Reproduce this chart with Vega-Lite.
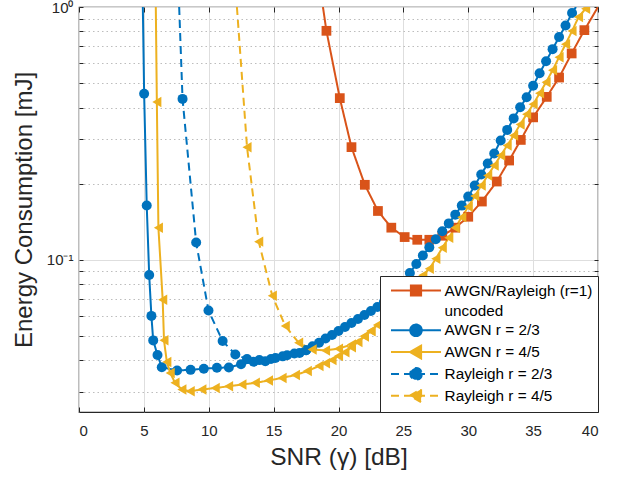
{
  "$schema": "https://vega.github.io/schema/vega-lite/v6.json",
  "width": 519,
  "height": 405,
  "autosize": {"type": "none"},
  "padding": {"left": 79, "top": 7, "right": 23, "bottom": 66},
  "config": {
    "font": "Liberation Sans",
    "view": {"stroke": "#262626", "strokeWidth": 1.2}
  },
  "datasets": {
    "curves": [
      {"s": "AWGN/Rayleigh (r=1) uncoded", "snr": 18.8, "e": 1.0},
      {"s": "AWGN/Rayleigh (r=1) uncoded", "snr": 19.07, "e": 0.805},
      {"s": "AWGN/Rayleigh (r=1) uncoded", "snr": 20.1, "e": 0.436},
      {"s": "AWGN/Rayleigh (r=1) uncoded", "snr": 21.0, "e": 0.279},
      {"s": "AWGN/Rayleigh (r=1) uncoded", "snr": 22.03, "e": 0.198},
      {"s": "AWGN/Rayleigh (r=1) uncoded", "snr": 23.04, "e": 0.156},
      {"s": "AWGN/Rayleigh (r=1) uncoded", "snr": 24.07, "e": 0.134},
      {"s": "AWGN/Rayleigh (r=1) uncoded", "snr": 25.1, "e": 0.123},
      {"s": "AWGN/Rayleigh (r=1) uncoded", "snr": 26.07, "e": 0.12},
      {"s": "AWGN/Rayleigh (r=1) uncoded", "snr": 27.0, "e": 0.12},
      {"s": "AWGN/Rayleigh (r=1) uncoded", "snr": 28.0, "e": 0.1245},
      {"s": "AWGN/Rayleigh (r=1) uncoded", "snr": 29.0, "e": 0.134},
      {"s": "AWGN/Rayleigh (r=1) uncoded", "snr": 30.0, "e": 0.148},
      {"s": "AWGN/Rayleigh (r=1) uncoded", "snr": 31.05, "e": 0.17},
      {"s": "AWGN/Rayleigh (r=1) uncoded", "snr": 32.2, "e": 0.204},
      {"s": "AWGN/Rayleigh (r=1) uncoded", "snr": 33.15, "e": 0.247},
      {"s": "AWGN/Rayleigh (r=1) uncoded", "snr": 34.05, "e": 0.298},
      {"s": "AWGN/Rayleigh (r=1) uncoded", "snr": 35.0, "e": 0.366},
      {"s": "AWGN/Rayleigh (r=1) uncoded", "snr": 36.05, "e": 0.441},
      {"s": "AWGN/Rayleigh (r=1) uncoded", "snr": 37.0, "e": 0.526},
      {"s": "AWGN/Rayleigh (r=1) uncoded", "snr": 37.97, "e": 0.655},
      {"s": "AWGN/Rayleigh (r=1) uncoded", "snr": 38.95, "e": 0.81},
      {"s": "AWGN/Rayleigh (r=1) uncoded", "snr": 40.0, "e": 1.0},

      {"s": "Rayleigh r = 2/3", "snr": 7.72, "e": 1.0},
      {"s": "Rayleigh r = 2/3", "snr": 7.98, "e": 0.433},
      {"s": "Rayleigh r = 2/3", "snr": 9.03, "e": 0.117},
      {"s": "Rayleigh r = 2/3", "snr": 9.98, "e": 0.063},
      {"s": "Rayleigh r = 2/3", "snr": 11.07, "e": 0.0477},
      {"s": "Rayleigh r = 2/3", "snr": 12.05, "e": 0.0422},
      {"s": "Rayleigh r = 2/3", "snr": 12.95, "e": 0.0405},
      {"s": "Rayleigh r = 2/3", "snr": 13.9, "e": 0.0401},
      {"s": "Rayleigh r = 2/3", "snr": 14.8, "e": 0.0405},
      {"s": "Rayleigh r = 2/3", "snr": 15.7, "e": 0.0415},
      {"s": "Rayleigh r = 2/3", "snr": 16.6, "e": 0.0426},
      {"s": "Rayleigh r = 2/3", "snr": 17.5, "e": 0.0439},

      {"s": "AWGN r = 2/3", "snr": 4.92, "e": 1.0},
      {"s": "AWGN r = 2/3", "snr": 5.02, "e": 0.454},
      {"s": "AWGN r = 2/3", "snr": 5.22, "e": 0.164},
      {"s": "AWGN r = 2/3", "snr": 5.41, "e": 0.087},
      {"s": "AWGN r = 2/3", "snr": 5.58, "e": 0.06},
      {"s": "AWGN r = 2/3", "snr": 5.72, "e": 0.048},
      {"s": "AWGN r = 2/3", "snr": 6.05, "e": 0.042},
      {"s": "AWGN r = 2/3", "snr": 6.38, "e": 0.0376},
      {"s": "AWGN r = 2/3", "snr": 7.56, "e": 0.0365},
      {"s": "AWGN r = 2/3", "snr": 8.6, "e": 0.0367},
      {"s": "AWGN r = 2/3", "snr": 9.62, "e": 0.0371},
      {"s": "AWGN r = 2/3", "snr": 10.63, "e": 0.0374},
      {"s": "AWGN r = 2/3", "snr": 11.55, "e": 0.0375},
      {"s": "AWGN r = 2/3", "snr": 12.49, "e": 0.0386},
      {"s": "AWGN r = 2/3", "snr": 13.46, "e": 0.0395},
      {"s": "AWGN r = 2/3", "snr": 14.36, "e": 0.0397},
      {"s": "AWGN r = 2/3", "snr": 15.14, "e": 0.0409},
      {"s": "AWGN r = 2/3", "snr": 16.04, "e": 0.0419},
      {"s": "AWGN r = 2/3", "snr": 17.0, "e": 0.0428},
      {"s": "AWGN r = 2/3", "snr": 17.5, "e": 0.0439},
      {"s": "AWGN r = 2/3", "snr": 18.0, "e": 0.0455},
      {"s": "AWGN r = 2/3", "snr": 18.5, "e": 0.047},
      {"s": "AWGN r = 2/3", "snr": 19.0, "e": 0.0488},
      {"s": "AWGN r = 2/3", "snr": 19.5, "e": 0.0504},
      {"s": "AWGN r = 2/3", "snr": 20.0, "e": 0.0523},
      {"s": "AWGN r = 2/3", "snr": 20.5, "e": 0.0542},
      {"s": "AWGN r = 2/3", "snr": 21.0, "e": 0.0562},
      {"s": "AWGN r = 2/3", "snr": 21.5, "e": 0.0583},
      {"s": "AWGN r = 2/3", "snr": 22.0, "e": 0.0605},
      {"s": "AWGN r = 2/3", "snr": 22.5, "e": 0.0627},
      {"s": "AWGN r = 2/3", "snr": 23.0, "e": 0.0651},
      {"s": "AWGN r = 2/3", "snr": 23.5, "e": 0.0681},
      {"s": "AWGN r = 2/3", "snr": 24.0, "e": 0.072},
      {"s": "AWGN r = 2/3", "snr": 24.5, "e": 0.0767},
      {"s": "AWGN r = 2/3", "snr": 25.0, "e": 0.0818},
      {"s": "AWGN r = 2/3", "snr": 25.5, "e": 0.0887},
      {"s": "AWGN r = 2/3", "snr": 26.0, "e": 0.0963},
      {"s": "AWGN r = 2/3", "snr": 26.5, "e": 0.104},
      {"s": "AWGN r = 2/3", "snr": 27.0, "e": 0.112},
      {"s": "AWGN r = 2/3", "snr": 27.5, "e": 0.1205},
      {"s": "AWGN r = 2/3", "snr": 28.0, "e": 0.1298},
      {"s": "AWGN r = 2/3", "snr": 28.5, "e": 0.1393},
      {"s": "AWGN r = 2/3", "snr": 29.0, "e": 0.1509},
      {"s": "AWGN r = 2/3", "snr": 29.5, "e": 0.1638},
      {"s": "AWGN r = 2/3", "snr": 30.0, "e": 0.1778},
      {"s": "AWGN r = 2/3", "snr": 30.5, "e": 0.1966},
      {"s": "AWGN r = 2/3", "snr": 31.0, "e": 0.2175},
      {"s": "AWGN r = 2/3", "snr": 31.5, "e": 0.2404},
      {"s": "AWGN r = 2/3", "snr": 32.0, "e": 0.2634},
      {"s": "AWGN r = 2/3", "snr": 32.5, "e": 0.2966},
      {"s": "AWGN r = 2/3", "snr": 33.0, "e": 0.3265},
      {"s": "AWGN r = 2/3", "snr": 33.5, "e": 0.3626},
      {"s": "AWGN r = 2/3", "snr": 34.0, "e": 0.401},
      {"s": "AWGN r = 2/3", "snr": 34.5, "e": 0.4394},
      {"s": "AWGN r = 2/3", "snr": 35.0, "e": 0.4882},
      {"s": "AWGN r = 2/3", "snr": 35.5, "e": 0.547},
      {"s": "AWGN r = 2/3", "snr": 36.0, "e": 0.6105},
      {"s": "AWGN r = 2/3", "snr": 36.5, "e": 0.6813},
      {"s": "AWGN r = 2/3", "snr": 37.0, "e": 0.7603},
      {"s": "AWGN r = 2/3", "snr": 37.5, "e": 0.8446},
      {"s": "AWGN r = 2/3", "snr": 38.0, "e": 0.9467},
      {"s": "AWGN r = 2/3", "snr": 38.3, "e": 1.0},

      {"s": "Rayleigh r = 4/5", "snr": 12.17, "e": 1.0},
      {"s": "Rayleigh r = 4/5", "snr": 12.95, "e": 0.279},
      {"s": "Rayleigh r = 4/5", "snr": 13.85, "e": 0.118},
      {"s": "Rayleigh r = 4/5", "snr": 14.9, "e": 0.072},
      {"s": "Rayleigh r = 4/5", "snr": 15.9, "e": 0.0547},
      {"s": "Rayleigh r = 4/5", "snr": 16.93, "e": 0.047},
      {"s": "Rayleigh r = 4/5", "snr": 17.97, "e": 0.0442},
      {"s": "Rayleigh r = 4/5", "snr": 19.0, "e": 0.0438},
      {"s": "Rayleigh r = 4/5", "snr": 20.0, "e": 0.0445},
      {"s": "Rayleigh r = 4/5", "snr": 21.0, "e": 0.0462},
      {"s": "Rayleigh r = 4/5", "snr": 22.0, "e": 0.05},
      {"s": "Rayleigh r = 4/5", "snr": 22.5, "e": 0.0523},

      {"s": "AWGN r = 4/5", "snr": 5.92, "e": 1.0},
      {"s": "AWGN r = 4/5", "snr": 6.0, "e": 0.421},
      {"s": "AWGN r = 4/5", "snr": 6.12, "e": 0.134},
      {"s": "AWGN r = 4/5", "snr": 6.45, "e": 0.0695},
      {"s": "AWGN r = 4/5", "snr": 6.55, "e": 0.0481},
      {"s": "AWGN r = 4/5", "snr": 6.77, "e": 0.0394},
      {"s": "AWGN r = 4/5", "snr": 7.03, "e": 0.0357},
      {"s": "AWGN r = 4/5", "snr": 7.4, "e": 0.0326},
      {"s": "AWGN r = 4/5", "snr": 7.93, "e": 0.0307},
      {"s": "AWGN r = 4/5", "snr": 8.57, "e": 0.0302},
      {"s": "AWGN r = 4/5", "snr": 9.47, "e": 0.0307},
      {"s": "AWGN r = 4/5", "snr": 10.5, "e": 0.0311},
      {"s": "AWGN r = 4/5", "snr": 11.53, "e": 0.0316},
      {"s": "AWGN r = 4/5", "snr": 12.56, "e": 0.0321},
      {"s": "AWGN r = 4/5", "snr": 13.59, "e": 0.0326},
      {"s": "AWGN r = 4/5", "snr": 14.6, "e": 0.0333},
      {"s": "AWGN r = 4/5", "snr": 15.65, "e": 0.0341},
      {"s": "AWGN r = 4/5", "snr": 16.68, "e": 0.035},
      {"s": "AWGN r = 4/5", "snr": 17.6, "e": 0.0363},
      {"s": "AWGN r = 4/5", "snr": 18.5, "e": 0.038},
      {"s": "AWGN r = 4/5", "snr": 19.0, "e": 0.039},
      {"s": "AWGN r = 4/5", "snr": 19.5, "e": 0.0401},
      {"s": "AWGN r = 4/5", "snr": 20.0, "e": 0.0416},
      {"s": "AWGN r = 4/5", "snr": 20.5, "e": 0.0431},
      {"s": "AWGN r = 4/5", "snr": 21.0, "e": 0.0451},
      {"s": "AWGN r = 4/5", "snr": 21.5, "e": 0.0473},
      {"s": "AWGN r = 4/5", "snr": 22.0, "e": 0.0497},
      {"s": "AWGN r = 4/5", "snr": 22.5, "e": 0.0523},
      {"s": "AWGN r = 4/5", "snr": 23.0, "e": 0.0552},
      {"s": "AWGN r = 4/5", "snr": 23.5, "e": 0.0583},
      {"s": "AWGN r = 4/5", "snr": 24.0, "e": 0.0622},
      {"s": "AWGN r = 4/5", "snr": 24.5, "e": 0.0669},
      {"s": "AWGN r = 4/5", "snr": 25.0, "e": 0.0713},
      {"s": "AWGN r = 4/5", "snr": 25.5, "e": 0.0767},
      {"s": "AWGN r = 4/5", "snr": 26.0, "e": 0.0818},
      {"s": "AWGN r = 4/5", "snr": 26.5, "e": 0.0868},
      {"s": "AWGN r = 4/5", "snr": 27.0, "e": 0.0921},
      {"s": "AWGN r = 4/5", "snr": 27.5, "e": 0.1009},
      {"s": "AWGN r = 4/5", "snr": 28.0, "e": 0.1116},
      {"s": "AWGN r = 4/5", "snr": 28.5, "e": 0.1223},
      {"s": "AWGN r = 4/5", "snr": 29.0, "e": 0.1339},
      {"s": "AWGN r = 4/5", "snr": 29.5, "e": 0.1475},
      {"s": "AWGN r = 4/5", "snr": 30.0, "e": 0.1623},
      {"s": "AWGN r = 4/5", "snr": 30.5, "e": 0.1786},
      {"s": "AWGN r = 4/5", "snr": 31.0, "e": 0.1966},
      {"s": "AWGN r = 4/5", "snr": 31.5, "e": 0.2154},
      {"s": "AWGN r = 4/5", "snr": 32.0, "e": 0.236},
      {"s": "AWGN r = 4/5", "snr": 32.5, "e": 0.2586},
      {"s": "AWGN r = 4/5", "snr": 33.0, "e": 0.2834},
      {"s": "AWGN r = 4/5", "snr": 33.5, "e": 0.3105},
      {"s": "AWGN r = 4/5", "snr": 34.0, "e": 0.3433},
      {"s": "AWGN r = 4/5", "snr": 34.5, "e": 0.3761},
      {"s": "AWGN r = 4/5", "snr": 35.0, "e": 0.4121},
      {"s": "AWGN r = 4/5", "snr": 35.5, "e": 0.4557},
      {"s": "AWGN r = 4/5", "snr": 36.0, "e": 0.5038},
      {"s": "AWGN r = 4/5", "snr": 36.5, "e": 0.5623},
      {"s": "AWGN r = 4/5", "snr": 37.0, "e": 0.6333},
      {"s": "AWGN r = 4/5", "snr": 37.5, "e": 0.713},
      {"s": "AWGN r = 4/5", "snr": 38.0, "e": 0.8031},
      {"s": "AWGN r = 4/5", "snr": 38.5, "e": 0.9126},
      {"s": "AWGN r = 4/5", "snr": 39.05, "e": 0.985},
      {"s": "AWGN r = 4/5", "snr": 39.2, "e": 1.0}
    ]
  },
  "data": {"name": "curves"},
  "encoding": {
    "x": {"field": "snr", "type": "quantitative", "scale": {"domain": [0, 40], "nice": false, "zero": false}, "axis": null},
    "y": {"field": "e", "type": "quantitative", "scale": {"type": "log", "domain": [0.025, 1], "nice": false}, "axis": null},
    "color": {
      "field": "s", "type": "nominal",
      "scale": {
        "domain": ["AWGN/Rayleigh (r=1) uncoded", "AWGN r = 2/3", "AWGN r = 4/5", "Rayleigh r = 2/3", "Rayleigh r = 4/5"],
        "range": ["#D95319", "#0072BD", "#EDB120", "#0072BD", "#EDB120"]
      },
      "legend": {
        "title": null,
        "orient": "bottom-right",
        "offset": 0,
        "fillColor": "white",
        "strokeColor": "#262626",
        "padding": 5,
        "labelFontSize": 15.3,
        "labelColor": "black",
        "symbolSize": 289,
        "symbolOffset": 21.5,
        "labelOffset": 19.1,
        "rowPadding": 0.8,
        "symbolStrokeWidth": 2,
        "labelLimit": 300,
        "labelExpr": "datum.value == 'AWGN/Rayleigh (r=1) uncoded' ? ['AWGN/Rayleigh (r=1)', 'uncoded'] : datum.label",
        "encode": {
          "labels": {
            "update": {"lineHeight": {"value": 20}}
          },
          "symbols": {
            "update": {
              "shape": {"signal": "datum.value == 'AWGN/Rayleigh (r=1) uncoded' ? 'M-2.94,0H2.94M-0.6,-0.6H0.6V0.6H-0.6Z' : (indexof(datum.value, '4/5') >= 0 ? 'M-2.94,0H2.94M-0.72,0L0.6,-0.76L0.6,0.76Z' : 'M-2.94,0H2.94M0.68,0A0.68,0.68,0,1,1,-0.68,0A0.68,0.68,0,1,1,0.68,0Z')"},
              "fill": {"signal": "scale('color', datum.value)"},
              "stroke": {"signal": "scale('color', datum.value)"},
              "strokeDash": {"signal": "indexof(datum.value, 'Rayleigh r') == 0 ? [12, 7] : [1, 0]"},
              "strokeWidth": {"value": 2},
              "opacity": {"value": 1}
            }
          }
        }
      }
    }
  },
  "layer": [
    {
      "mark": {"type": "line", "strokeWidth": 2, "clip": true},
      "encoding": {
        "strokeDash": {
          "field": "s", "type": "nominal",
          "scale": {
            "domain": ["AWGN/Rayleigh (r=1) uncoded", "AWGN r = 2/3", "AWGN r = 4/5", "Rayleigh r = 2/3", "Rayleigh r = 4/5"],
            "range": [[1, 0], [1, 0], [1, 0], [8, 5], [8, 5]]
          },
          "legend": null
        },
        "x": {
          "field": "snr", "type": "quantitative",
          "axis": {
            "orient": "bottom",
            "values": [0, 5, 10, 15, 20, 25, 30, 35, 40],
            "title": "SNR (γ) [dB]",
            "grid": true, "gridColor": "#dedede",
            "domain": false,
            "tickSize": -5, "tickColor": "#262626",
            "labelFontSize": 15, "labelColor": "#262626", "labelPadding": 16,
            "titleFontSize": 24.5, "titleFontWeight": "normal", "titleColor": "#262626", "titlePadding": 7
          }
        },
        "y": {
          "field": "e", "type": "quantitative",
          "axis": {
            "orient": "left",
            "values": [0.03, 0.04, 0.05, 0.06, 0.07, 0.08, 0.09, 0.1, 0.2, 0.3, 0.4, 0.5, 0.6, 0.7, 0.8, 0.9, 1],
            "labelExpr": "abs(datum.value - 1) < 1e-9 ? '10⁰' : (abs(datum.value - 0.1) < 1e-9 ? '10⁻¹' : '')",
            "title": "Energy Consumption [mJ]",
            "grid": true,
            "gridColor": {"condition": {"test": "abs(datum.value - 1) < 1e-9 || abs(datum.value - 0.1) < 1e-9", "value": "#dedede"}, "value": "#bdbdbd"},
            "gridDash": {"condition": {"test": "abs(datum.value - 1) < 1e-9 || abs(datum.value - 0.1) < 1e-9", "value": []}, "value": [1.5, 3]},
            "domain": false,
            "tickSize": -4, "tickColor": "#262626",
            "labelFontSize": 15, "labelColor": "#262626", "labelPadding": 10,
            "titleFontSize": 24, "titleFontWeight": "normal", "titleColor": "#262626", "titlePadding": 10
          }
        }
      }
    },
    {
      "transform": [{"filter": "datum.e < 0.999 && datum.s == 'AWGN/Rayleigh (r=1) uncoded'"}],
      "mark": {"type": "point", "shape": "square", "filled": true, "size": 95, "opacity": 1, "clip": true},
      "encoding": {
        "x": {
          "field": "snr", "type": "quantitative",
          "axis": {"orient": "top", "values": [0, 5, 10, 15, 20, 25, 30, 35, 40], "labels": false, "title": null, "grid": false, "domain": false, "tickSize": -5, "tickColor": "#262626"}
        },
        "y": {
          "field": "e", "type": "quantitative",
          "axis": {"orient": "right", "values": [0.03, 0.04, 0.05, 0.06, 0.07, 0.08, 0.09, 0.1, 0.2, 0.3, 0.4, 0.5, 0.6, 0.7, 0.8, 0.9, 1], "labels": false, "title": null, "grid": false, "domain": false, "tickSize": -4, "tickColor": "#262626"}
        }
      }
    },
    {
      "transform": [{"filter": "datum.e < 0.999 && indexof(datum.s, '2/3') >= 0"}],
      "mark": {"type": "point", "shape": "circle", "filled": true, "size": 100, "opacity": 1, "clip": true}
    },
    {
      "transform": [{"filter": "datum.e < 0.999 && indexof(datum.s, '4/5') >= 0"}],
      "mark": {"type": "point", "shape": "triangle-left", "filled": true, "size": 110, "opacity": 1, "clip": true}
    }
  ],
  "resolve": {"axis": {"x": "independent", "y": "independent"}}
}
